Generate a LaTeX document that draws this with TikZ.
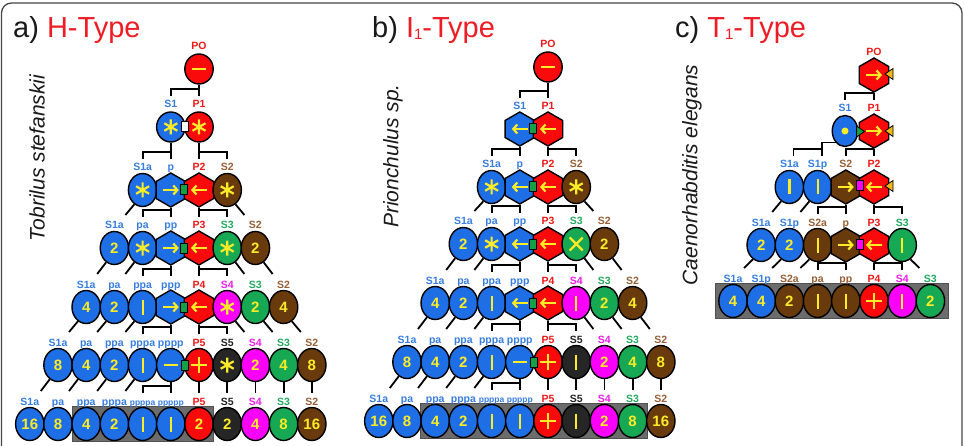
\documentclass[tikz,border=0pt]{standalone}
\usepackage{fontspec}
\setmainfont{Liberation Sans}
\usetikzlibrary{shapes.geometric,arrows.meta}
\definecolor{cblue}{RGB}{30,110,230}
\definecolor{cred}{RGB}{250,10,10}
\definecolor{cbrown}{RGB}{105,58,12}
\definecolor{cgreen}{RGB}{22,168,82}
\definecolor{cmag}{RGB}{250,0,250}
\definecolor{cdark}{RGB}{38,38,38}
\definecolor{cyel}{RGB}{252,236,40}
\definecolor{lblue}{RGB}{55,125,225}
\definecolor{lred}{RGB}{240,25,25}
\definecolor{lbrown}{RGB}{150,95,55}
\definecolor{lgreen}{RGB}{35,170,95}
\definecolor{lmag}{RGB}{235,30,235}
\definecolor{ldark}{RGB}{35,35,35}
\definecolor{sqgreen}{RGB}{20,160,70}
\definecolor{triorange}{RGB}{240,185,20}
\definecolor{boxgray}{RGB}{108,108,108}
\definecolor{boxedge}{RGB}{80,80,80}
\definecolor{framec}{RGB}{70,70,70}
\definecolor{tred}{RGB}{238,28,36}
\definecolor{tblack}{RGB}{25,25,25}
\tikzset{
 cellE/.style={ellipse, draw=black, line width=1.4pt, minimum width=28.4pt, minimum height=33pt, inner sep=0pt},
 cellEs/.style={ellipse, draw=black, line width=1.4pt, minimum width=28.4pt, minimum height=30pt, inner sep=0pt},
 cellEn/.style={ellipse, draw=black, line width=1.4pt, minimum width=25.5pt, minimum height=31pt, inner sep=0pt},
 cellH/.style={regular polygon, regular polygon sides=6, shape border rotate=30, draw=black, line width=1.4pt, minimum size=34pt, inner sep=0pt},
 lab/.style={font=\fontsize{10.5}{10.5}\selectfont\bfseries, inner sep=0.5pt, anchor=base},
 conn/.style={line width=1.8pt, black},
 sym/.style={line width=2.2pt, draw=cyel},
 numtext/.style={font=\fontsize{15}{15}\selectfont\bfseries, text=cyel, inner sep=0pt},
 titletext/.style={font=\fontsize{29}{29}\selectfont, anchor=base west, inner sep=0pt, text=tblack},
 species/.style={font=\fontsize{21}{21}\selectfont\itshape, rotate=90, inner sep=0pt, text=tblack},
 sqbox/.style={draw=black, line width=1pt, minimum width=7pt, minimum height=10pt, inner sep=0pt},
}
\newcommand\cell[8]{%
  \node[#1, fill=#5] (#2) at (#3,#4) {};
  \node[lab, text=#7] (#2-l) at (#3,#4-19) {#6};
  \def\cur{#2}#8}
\newcommand\sStar{\draw[sym] ([shift={(0,-7.5)}]\cur.center) -- ([shift={(0,7.5)}]\cur.center)
  ([shift={(-6.5,-3.75)}]\cur.center) -- ([shift={(6.5,3.75)}]\cur.center)
  ([shift={(-6.5,3.75)}]\cur.center) -- ([shift={(6.5,-3.75)}]\cur.center);}
\newcommand\sBar{\draw[sym] ([shift={(0,-7.5)}]\cur.center) -- ([shift={(0,7.5)}]\cur.center);}
\newcommand\sMinus{\draw[sym] ([shift={(-7,0)}]\cur.center) -- ([shift={(7,0)}]\cur.center);}
\newcommand\sPlus{\draw[sym] ([shift={(-8,0)}]\cur.center) -- ([shift={(8,0)}]\cur.center)
  ([shift={(0,-8)}]\cur.center) -- ([shift={(0,8)}]\cur.center);}
\newcommand\sCross{\draw[sym] ([shift={(-6.5,-6.5)}]\cur.center) -- ([shift={(6.5,6.5)}]\cur.center)
  ([shift={(-6.5,6.5)}]\cur.center) -- ([shift={(6.5,-6.5)}]\cur.center);}
\newcommand\sRight{\draw[sym,-{Straight Barb[length=4pt,width=9pt]}] ([shift={(-8,0)}]\cur.center) -- ([shift={(8,0)}]\cur.center);}
\newcommand\sLeft{\draw[sym,-{Straight Barb[length=4pt,width=9pt]}] ([shift={(8,0)}]\cur.center) -- ([shift={(-8,0)}]\cur.center);}
\newcommand\sDot{\fill[cyel] (\cur.center) circle (3.5);}
\newcommand\sNum[1]{\node[numtext] (\cur-t) at (\cur.center) {#1};}
\newcommand\sqr[4]{\node[sqbox, fill=#4] (#1) at (#2,#3) {};}
\newcommand\bracket[3]{%
  \draw[conn] (#1.south) -- ([shift={(0,-31)}]#2.center);
  \draw[conn] ([shift={(0,-38)}]#2.center) -| ([shift={(0,-31)}]#3.center);}
\newcommand\diagL[2]{\draw[conn] (#1.240) -- ([shift={(11,-33)}]#2.center);}
\newcommand\diagR[2]{\draw[conn] (#1.300) -- ([shift={(-11,-33)}]#2.center);}
\newcommand\vertc[2]{\draw[conn] (#1.south) -- ([shift={(0,-31)}]#2.center);}
\newcommand\triR[4]{\coordinate (#1) at (#2,#3);
  \filldraw[fill=#4, draw=black, line width=0.8pt] ([shift={(-4,-5.5)}]#1) -- ([shift={(4,0)}]#1) -- ([shift={(-4,5.5)}]#1) -- cycle;}
\newcommand\triL[4]{\coordinate (#1) at (#2,#3);
  \filldraw[fill=#4, draw=black, line width=0.8pt] ([shift={(4,-5.5)}]#1) -- ([shift={(-4,0)}]#1) -- ([shift={(4,5.5)}]#1) -- cycle;}
\newcommand\smlab{\fontsize{8.5}{8.5}\selectfont}
\begin{document}
\begin{tikzpicture}[x=1pt,y=-1pt]
\useasboundingbox (0,0) rectangle (965,446);
\fill[white] (0,0) rectangle (965,446);
\draw[framec, line width=1.3pt, rounded corners=10pt] (1.5,3) rectangle (962,480);

% titles and species
\node[titletext] (ta) at (13,38) {a) \textcolor{tred}{H-Type}};
\node[titletext] (tb) at (372,38) {b) \textcolor{tred}{I\raisebox{-1.5pt}{\fontsize{15}{15}\selectfont 1}-Type}};
\node[titletext] (tc) at (675,38) {c) \textcolor{tred}{T\raisebox{-1.5pt}{\fontsize{15}{15}\selectfont 1}-Type}};
\node[species] (sa) at (37,158) {Tobrilus stefanskii};
\node[species] (sb) at (393,156) {Prionchulus sp.};
\node[species] (sc) at (692,175) {Caenorhabditis elegans};

% gray boxes
\filldraw[fill=boxgray, draw=boxedge, line width=0.8pt] (72,406) rectangle (213.5,441.5);
\filldraw[fill=boxgray, draw=boxedge, line width=0.8pt] (420.5,403) rectangle (647.5,438.5);
\filldraw[fill=boxgray, draw=boxedge, line width=0.8pt] (715,283) rectangle (948,318);

%%%%%%%% panel a
\cell{cellEs}{a0P}{199}{69}{cred}{PO}{lred}{\sMinus}
\cell{cellEs}{a1S1}{170.8}{127}{cblue}{S1}{lblue}{\sStar}
\cell{cellEs}{a1P1}{199}{127}{cred}{P1}{lred}{\sStar}
\sqr{a1sq}{184.9}{127}{white}

\cell{cellE}{a2S1a}{142.6}{190}{cblue}{S1a}{lblue}{\sStar}
\cell{cellH}{a2p}{170.8}{190}{cblue}{p}{lblue}{\sRight}
\cell{cellH}{a2P2}{199}{190}{cred}{P2}{lred}{\sLeft}
\cell{cellE}{a2S2}{227.2}{190}{cbrown}{S2}{lbrown}{\sStar}
\sqr{a2sq}{184}{190}{sqgreen}

\cell{cellE}{a3S1a}{114.4}{248}{cblue}{S1a}{lblue}{\sNum{2}}
\cell{cellE}{a3pa}{142.6}{248}{cblue}{pa}{lblue}{\sStar}
\cell{cellH}{a3pp}{170.8}{248}{cblue}{pp}{lblue}{\sRight}
\cell{cellH}{a3P3}{199}{248}{cred}{P3}{lred}{\sLeft}
\cell{cellE}{a3S3}{227.2}{248}{cgreen}{S3}{lgreen}{\sStar}
\cell{cellE}{a3S2}{255.4}{248}{cbrown}{S2}{lbrown}{\sNum{2}}
\sqr{a3sq}{184}{248}{sqgreen}

\cell{cellE}{a4S1a}{86.2}{307}{cblue}{S1a}{lblue}{\sNum{4}}
\cell{cellE}{a4pa}{114.4}{307}{cblue}{pa}{lblue}{\sNum{2}}
\cell{cellE}{a4ppa}{142.6}{307}{cblue}{ppa}{lblue}{\sBar}
\cell{cellH}{a4ppp}{170.8}{307}{cblue}{ppp}{lblue}{\sRight}
\cell{cellH}{a4P4}{199}{307}{cred}{P4}{lred}{\sLeft}
\cell{cellE}{a4S4}{227.2}{307}{cmag}{S4}{lmag}{\sStar}
\cell{cellE}{a4S3}{255.4}{307}{cgreen}{S3}{lgreen}{\sNum{2}}
\cell{cellE}{a4S2}{283.6}{307}{cbrown}{S2}{lbrown}{\sNum{4}}
\sqr{a4sq}{184}{307}{sqgreen}

\cell{cellE}{a5S1a}{58}{365}{cblue}{S1a}{lblue}{\sNum{8}}
\cell{cellE}{a5pa}{86.2}{365}{cblue}{pa}{lblue}{\sNum{4}}
\cell{cellE}{a5ppa}{114.4}{365}{cblue}{ppa}{lblue}{\sNum{2}}
\cell{cellE}{a5pppa}{142.6}{365}{cblue}{pppa}{lblue}{\sBar}
\cell{cellE}{a5pppp}{170.8}{365}{cblue}{pppp}{lblue}{\sMinus}
\cell{cellE}{a5P5}{199}{365}{cred}{P5}{lred}{\sPlus}
\cell{cellE}{a5S5}{227.2}{365}{cdark}{S5}{ldark}{\sStar}
\cell{cellE}{a5S4}{255.4}{365}{cmag}{S4}{lmag}{\sNum{2}}
\cell{cellE}{a5S3}{283.6}{365}{cgreen}{S3}{lgreen}{\sNum{4}}
\cell{cellE}{a5S2}{311.8}{365}{cbrown}{S2}{lbrown}{\sNum{8}}
\sqr{a5sq}{184.9}{365}{sqgreen}

\cell{cellE}{a6S1a}{29.8}{424}{cblue}{S1a}{lblue}{\sNum{16}}
\cell{cellE}{a6pa}{58}{424}{cblue}{pa}{lblue}{\sNum{8}}
\cell{cellE}{a6ppa}{86.2}{424}{cblue}{ppa}{lblue}{\sNum{4}}
\cell{cellE}{a6pppa}{114.4}{424}{cblue}{pppa}{lblue}{\sNum{2}}
\cell{cellE}{a6ppppa}{142.6}{424}{cblue}{{\smlab ppppa}}{lblue}{\sBar}
\cell{cellE}{a6ppppp}{170.8}{424}{cblue}{{\smlab ppppp}}{lblue}{\sBar}
\cell{cellE}{a6P5}{199}{424}{cred}{P5}{lred}{\sNum{2}}
\cell{cellE}{a6S5}{227.2}{424}{cdark}{S5}{ldark}{\sNum{2}}
\cell{cellE}{a6S4}{255.4}{424}{cmag}{S4}{lmag}{\sNum{4}}
\cell{cellE}{a6S3}{283.6}{424}{cgreen}{S3}{lgreen}{\sNum{8}}
\cell{cellE}{a6S2}{311.8}{424}{cbrown}{S2}{lbrown}{\sNum{16}}

\bracket{a0P}{a1P1}{a1S1}
\bracket{a1S1}{a2p}{a2S1a}
\bracket{a1P1}{a2P2}{a2S2}
\diagL{a2S1a}{a3S1a}
\bracket{a2p}{a3pp}{a3pa}
\bracket{a2P2}{a3P3}{a3S3}
\diagR{a2S2}{a3S2}
\diagL{a3S1a}{a4S1a}
\diagL{a3pa}{a4pa}
\bracket{a3pp}{a4ppp}{a4ppa}
\bracket{a3P3}{a4P4}{a4S4}
\diagR{a3S3}{a4S3}
\diagR{a3S2}{a4S2}
\diagL{a4S1a}{a5S1a}
\diagL{a4pa}{a5pa}
\diagL{a4ppa}{a5ppa}
\bracket{a4ppp}{a5pppp}{a5pppa}
\bracket{a4P4}{a5P5}{a5S5}
\diagR{a4S4}{a5S4}
\diagR{a4S3}{a5S3}
\diagR{a4S2}{a5S2}
\diagL{a5S1a}{a6S1a}
\diagL{a5pa}{a6pa}
\diagL{a5ppa}{a6ppa}
\diagL{a5pppa}{a6pppa}
\bracket{a5pppp}{a6ppppp}{a6ppppa}
\vertc{a5P5}{a6P5}
\vertc{a5S5}{a6S5}
\vertc{a5S4}{a6S4}
\vertc{a5S3}{a6S3}
\vertc{a5S2}{a6S2}

%%%%%%%% panel b
\cell{cellEs}{b0P}{548}{67}{cred}{PO}{lred}{\sMinus}
\cell{cellH}{b1S1}{519.8}{129}{cblue}{S1}{lblue}{\sLeft}
\cell{cellH}{b1P1}{548}{129}{cred}{P1}{lred}{\sLeft}
\sqr{b1sq}{533}{129}{sqgreen}

\cell{cellE}{b2S1a}{491.6}{187}{cblue}{S1a}{lblue}{\sStar}
\cell{cellH}{b2p}{519.8}{187}{cblue}{p}{lblue}{\sLeft}
\cell{cellH}{b2P2}{548}{187}{cred}{P2}{lred}{\sLeft}
\cell{cellE}{b2S2}{576.2}{187}{cbrown}{S2}{lbrown}{\sStar}
\sqr{b2sq}{533}{187}{sqgreen}

\cell{cellE}{b3S1a}{463.4}{244}{cblue}{S1a}{lblue}{\sNum{2}}
\cell{cellE}{b3pa}{491.6}{244}{cblue}{pa}{lblue}{\sStar}
\cell{cellH}{b3pp}{519.8}{244}{cblue}{pp}{lblue}{\sLeft}
\cell{cellH}{b3P3}{548}{244}{cred}{P3}{lred}{\sLeft}
\cell{cellE}{b3S3}{576.2}{244}{cgreen}{S3}{lgreen}{\sCross}
\cell{cellE}{b3S2}{604.4}{244}{cbrown}{S2}{lbrown}{\sNum{2}}
\sqr{b3sq}{533}{244}{sqgreen}

\cell{cellE}{b4S1a}{435.2}{303}{cblue}{S1a}{lblue}{\sNum{4}}
\cell{cellE}{b4pa}{463.4}{303}{cblue}{pa}{lblue}{\sNum{2}}
\cell{cellE}{b4ppa}{491.6}{303}{cblue}{ppa}{lblue}{\sBar}
\cell{cellH}{b4ppp}{519.8}{303}{cblue}{ppp}{lblue}{\sLeft}
\cell{cellH}{b4P4}{548}{303}{cred}{P4}{lred}{\sLeft}
\cell{cellE}{b4S4}{576.2}{303}{cmag}{S4}{lmag}{\sBar}
\cell{cellE}{b4S3}{604.4}{303}{cgreen}{S3}{lgreen}{\sNum{2}}
\cell{cellE}{b4S2}{632.6}{303}{cbrown}{S2}{lbrown}{\sNum{4}}
\sqr{b4sq}{533}{303}{sqgreen}

\cell{cellE}{b5S1a}{407}{362}{cblue}{S1a}{lblue}{\sNum{8}}
\cell{cellE}{b5pa}{435.2}{362}{cblue}{pa}{lblue}{\sNum{4}}
\cell{cellE}{b5ppa}{463.4}{362}{cblue}{ppa}{lblue}{\sNum{2}}
\cell{cellE}{b5pppa}{491.6}{362}{cblue}{pppa}{lblue}{\sBar}
\cell{cellE}{b5pppp}{519.8}{362}{cblue}{pppp}{lblue}{\sMinus}
\cell{cellE}{b5P5}{548}{362}{cred}{P5}{lred}{\sPlus}
\cell{cellE}{b5S5}{576.2}{362}{cdark}{S5}{ldark}{\sBar}
\cell{cellE}{b5S4}{604.4}{362}{cmag}{S4}{lmag}{\sNum{2}}
\cell{cellE}{b5S3}{632.6}{362}{cgreen}{S3}{lgreen}{\sNum{4}}
\cell{cellE}{b5S2}{660.8}{362}{cbrown}{S2}{lbrown}{\sNum{8}}
\sqr{b5sq}{533.9}{362}{sqgreen}

\cell{cellE}{b6S1a}{378.8}{421}{cblue}{S1a}{lblue}{\sNum{16}}
\cell{cellE}{b6pa}{407}{421}{cblue}{pa}{lblue}{\sNum{8}}
\cell{cellE}{b6ppa}{435.2}{421}{cblue}{ppa}{lblue}{\sNum{4}}
\cell{cellE}{b6pppa}{463.4}{421}{cblue}{pppa}{lblue}{\sNum{2}}
\cell{cellE}{b6ppppa}{491.6}{421}{cblue}{{\smlab ppppa}}{lblue}{\sBar}
\cell{cellE}{b6ppppp}{519.8}{421}{cblue}{{\smlab ppppp}}{lblue}{\sBar}
\cell{cellE}{b6P5}{548}{421}{cred}{P5}{lred}{\sPlus}
\cell{cellE}{b6S5}{576.2}{421}{cdark}{S5}{ldark}{\sBar}
\cell{cellE}{b6S4}{604.4}{421}{cmag}{S4}{lmag}{\sNum{2}}
\cell{cellE}{b6S3}{632.6}{421}{cgreen}{S3}{lgreen}{\sNum{8}}
\cell{cellE}{b6S2}{660.8}{421}{cbrown}{S2}{lbrown}{\sNum{16}}

\bracket{b0P}{b1P1}{b1S1}
\bracket{b1S1}{b2p}{b2S1a}
\bracket{b1P1}{b2P2}{b2S2}
\diagL{b2S1a}{b3S1a}
\bracket{b2p}{b3pp}{b3pa}
\bracket{b2P2}{b3P3}{b3S3}
\diagR{b2S2}{b3S2}
\diagL{b3S1a}{b4S1a}
\diagL{b3pa}{b4pa}
\bracket{b3pp}{b4ppp}{b4ppa}
\bracket{b3P3}{b4P4}{b4S4}
\diagR{b3S3}{b4S3}
\diagR{b3S2}{b4S2}
\diagL{b4S1a}{b5S1a}
\diagL{b4pa}{b5pa}
\diagL{b4ppa}{b5ppa}
\bracket{b4ppp}{b5pppp}{b5pppa}
\bracket{b4P4}{b5P5}{b5S5}
\diagR{b4S4}{b5S4}
\diagR{b4S3}{b5S3}
\diagR{b4S2}{b5S2}
\diagL{b5S1a}{b6S1a}
\diagL{b5pa}{b6pa}
\diagL{b5ppa}{b6ppa}
\diagL{b5pppa}{b6pppa}
\bracket{b5pppp}{b6ppppp}{b6ppppa}
\vertc{b5P5}{b6P5}
\vertc{b5S5}{b6S5}
\vertc{b5S4}{b6S4}
\vertc{b5S3}{b6S3}
\vertc{b5S2}{b6S2}

%%%%%%%% panel c
\cell{cellH}{c0P}{874}{75}{cred}{PO}{lred}{\sRight}
\triL{c0tri}{889}{74}{triorange}
\cell{cellEn}{c1S1}{845}{131}{cblue}{S1}{lblue}{\sDot}
\cell{cellH}{c1P1}{874}{131}{cred}{P1}{lred}{\sRight}
\triR{c1tri}{860.5}{131.5}{sqgreen}
\triL{c1tri2}{889}{131}{triorange}

\cell{cellE}{c2S1a}{789.4}{187}{cblue}{S1a}{lblue}{\sBar}
\cell{cellE}{c2S1p}{817.6}{187}{cblue}{S1p}{lblue}{\sBar}
\cell{cellH}{c2S2}{845.8}{187}{cbrown}{S2}{lbrown}{\sRight}
\cell{cellH}{c2P2}{874}{187}{cred}{P2}{lred}{\sLeft}
\sqr{c2sq}{860}{186}{cmag}
\triL{c2tri}{889}{186}{triorange}

\cell{cellE}{c3S1a}{761.2}{245}{cblue}{S1a}{lblue}{\sNum{2}}
\cell{cellE}{c3S1p}{789.4}{245}{cblue}{S1p}{lblue}{\sNum{2}}
\cell{cellE}{c3S2a}{817.6}{245}{cbrown}{S2a}{lbrown}{\sBar}
\cell{cellH}{c3p}{845.8}{245}{cbrown}{p}{lbrown}{\sRight}
\cell{cellH}{c3P3}{874}{245}{cred}{P3}{lred}{\sLeft}
\cell{cellE}{c3S3}{902.2}{245}{cgreen}{S3}{lgreen}{\sBar}
\sqr{c3sq}{860}{244}{cmag}

\cell{cellE}{c4S1a}{733}{301}{cblue}{S1a}{lblue}{\sNum{4}}
\cell{cellE}{c4S1p}{761.2}{301}{cblue}{S1p}{lblue}{\sNum{4}}
\cell{cellE}{c4S2a}{789.4}{301}{cbrown}{S2a}{lbrown}{\sNum{2}}
\cell{cellE}{c4pa}{817.6}{301}{cbrown}{pa}{lbrown}{\sBar}
\cell{cellE}{c4pp}{845.8}{301}{cbrown}{pp}{lbrown}{\sBar}
\cell{cellE}{c4P4}{874}{301}{cred}{P4}{lred}{\sPlus}
\cell{cellE}{c4S4}{902.2}{301}{cmag}{S4}{lmag}{\sBar}
\cell{cellE}{c4S3}{930.4}{301}{cgreen}{S3}{lgreen}{\sNum{2}}

\bracket{c0P}{c1P1}{c1S1}
\draw[conn] (c1S1.south west) -| ([shift={(4,-31)}]c2S1p.center);
\draw[conn] ([shift={(4,-38)}]c2S1p.center) -| ([shift={(4,-31)}]c2S1a.center);
\bracket{c1P1}{c2P2}{c2S2}
\diagL{c2S1a}{c3S1a}
\diagL{c2S1p}{c3S1p}
\bracket{c2S2}{c3p}{c3S2a}
\bracket{c2P2}{c3P3}{c3S3}
\diagL{c3S1a}{c4S1a}
\diagL{c3S1p}{c4S1p}
\diagL{c3S2a}{c4S2a}
\bracket{c3p}{c4pp}{c4pa}
\bracket{c3P3}{c4P4}{c4S4}
\diagR{c3S3}{c4S3}
\end{tikzpicture}
\end{document}
